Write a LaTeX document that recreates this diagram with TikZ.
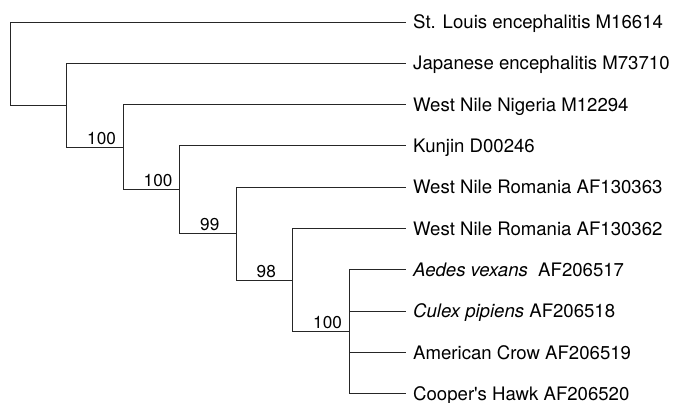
\documentclass[tikz,border=0pt]{standalone}
\usepackage{fontspec}
\setmainfont{TeX Gyre Heros}
\usetikzlibrary{positioning,calc}

\tikzset{
  branch/.style={line width=0.9pt, black!85},
  leaf/.style={anchor=base west, inner sep=0pt, xshift=7pt, yshift=-6.7pt,
    font=\fontsize{18.6}{21}\selectfont},
  boot/.style={anchor=south west, inner sep=0pt, xshift=-36pt, yshift=2.5pt,
    font=\fontsize{17.2}{20}\selectfont}
}

\begin{document}
\begin{tikzpicture}[x=1pt, y=-1pt]
    \useasboundingbox (0,0) rectangle (675,403);

    % Leaf tips and their names
    \foreach \i/\name in {1/{St. Louis encephalitis M16614},
                          2/{Japanese encephalitis M73710},
                          3/{West Nile Nigeria M12294},
                          4/{Kunjin D00246},
                          5/{West Nile Romania AF130363},
                          6/{West Nile Romania AF130362},
                          7/{\textit{Aedes vexans}\ \ AF206517},
                          8/{\textit{Culex pipiens} AF206518},
                          9/{American Crow AF206519},
                          10/{Cooper\textquotesingle s Hawk AF206520}} {
        \coordinate (l\i) at (406, {22+41.3*(\i-1)});
        \node[leaf] (t\i) at (l\i) {\name};
    }

    % Inner nodes, each halfway between its two children
    \coordinate (n1) at (10,63.6);
    \coordinate (n2) at (66.5,105.25);
    \coordinate (n3) at (123,147.2);
    \coordinate (n4) at (179.5,189.8);
    \coordinate (n5) at (236,233.65);
    \coordinate (n6) at (292.5,280.1);
    \coordinate (n7) at (349,331.75);

    % Branches
    \foreach \p/\c in {n1/l1, n1/n2, n2/l2, n2/n3, n3/l3, n3/n4, n4/l4, n4/n5,
                       n5/l5, n5/n6, n6/l6, n6/n7, n7/l7, n7/l8, n7/l9, n7/l10}
        \draw[branch] (\p) |- (\c);

    % Bootstrap values
    \node[boot] (b3) at (n3) {100};
    \node[boot] (b4) at (n4) {100};
    \node[boot] (b5) at (n5) {99};
    \node[boot] (b6) at (n6) {98};
    \node[boot] (b7) at (n7) {100};
\end{tikzpicture}
\end{document}
